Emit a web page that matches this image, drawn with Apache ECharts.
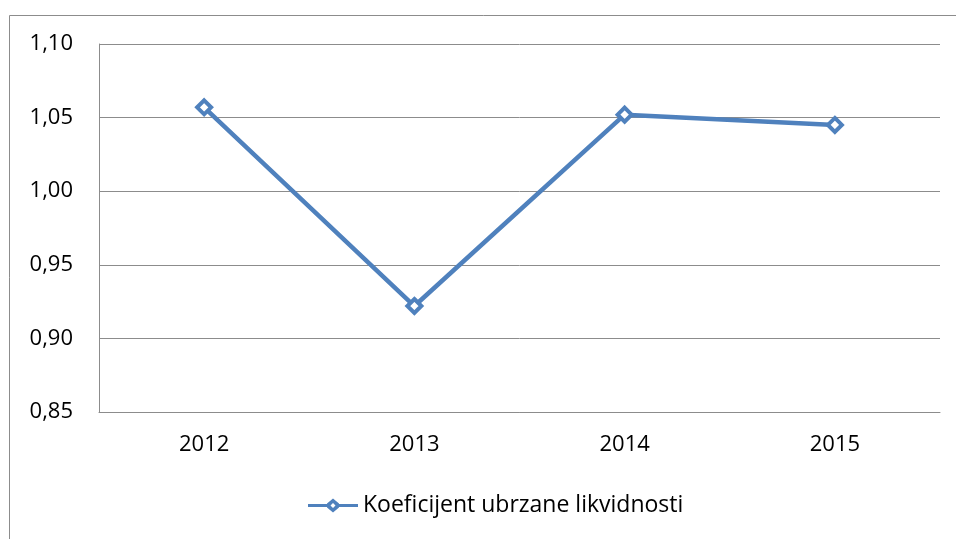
<!DOCTYPE html>
<html><head><meta charset="utf-8">
<script src="https://cdn.jsdelivr.net/npm/echarts@6/dist/echarts.min.js"></script>
<style>html,body{margin:0;padding:0;background:#fff}#c{width:956px;height:539px}</style>
</head><body><div id="c"></div>
<script>
const categories = ['2012', '2013', '2014', '2015'];
const seriesName = 'Koeficijent ubrzane likvidnosti';
const values = [1.057, 0.922, 1.052, 1.045];
const yMin = 0.85, yMax = 1.10, yStep = 0.05;

const chart = echarts.init(document.getElementById('c'), null, {renderer: 'canvas'});
const font = 'Open Sans, Liberation Sans, sans-serif';
chart.setOption({
  animation: false,
  backgroundColor: '#fff',
  graphic: [{
    type: 'rect', shape: {x: 9.5, y: 15.5, width: 960, height: 540},
    style: {fill: 'none', stroke: '#8c8c8c', lineWidth: 1}, silent: true, z: -1
  }],
  grid: {left: 99, right: 16, top: 44, bottom: 127, containLabel: false},
  legend: {
    top: 489, left: 303, itemWidth: 50, itemHeight: 14, itemGap: 9,
    textStyle: {fontFamily: font, fontSize: 23, color: '#000'},
    itemStyle: {color: '#4f81bd', borderWidth: 0},
    lineStyle: {width: 0},
    data: [{name: seriesName, icon: 'path://M0,5.5 L19,5.5 L19,5 L25,0 L31,5 L31,5.5 L50,5.5 L50,8.5 L31,8.5 L31,9 L25,14 L19,9 L19,8.5 L0,8.5 Z M25,4.5 L22.5,7 L25,9.5 L27.5,7 Z'}]
  },
  xAxis: {
    type: 'category', data: categories, boundaryGap: true,
    axisLine: {lineStyle: {color: '#8c8c8c', width: 1}},
    axisTick: {show: false},
    axisLabel: {fontFamily: font, fontSize: 22, color: '#000', margin: 22}
  },
  yAxis: {
    type: 'value', min: yMin, max: yMax, interval: yStep,
    axisLine: {show: true, lineStyle: {color: '#8c8c8c', width: 1}},
    axisTick: {show: false},
    splitLine: {lineStyle: {color: '#8c8c8c', width: 1}},
    axisLabel: {fontFamily: font, fontSize: 22, color: '#000', margin: 26,
      formatter: v => v.toFixed(2).replace('.', ',')}
  },
  series: [{
    name: seriesName, type: 'line', data: values,
    lineStyle: {color: '#4f81bd', width: 4.5},
    itemStyle: {color: '#fff', borderColor: '#4f81bd', borderWidth: 4},
    symbol: 'diamond', symbolSize: 14, showSymbol: true
  }],
  color: ['#4f81bd']
});
</script></body></html>
